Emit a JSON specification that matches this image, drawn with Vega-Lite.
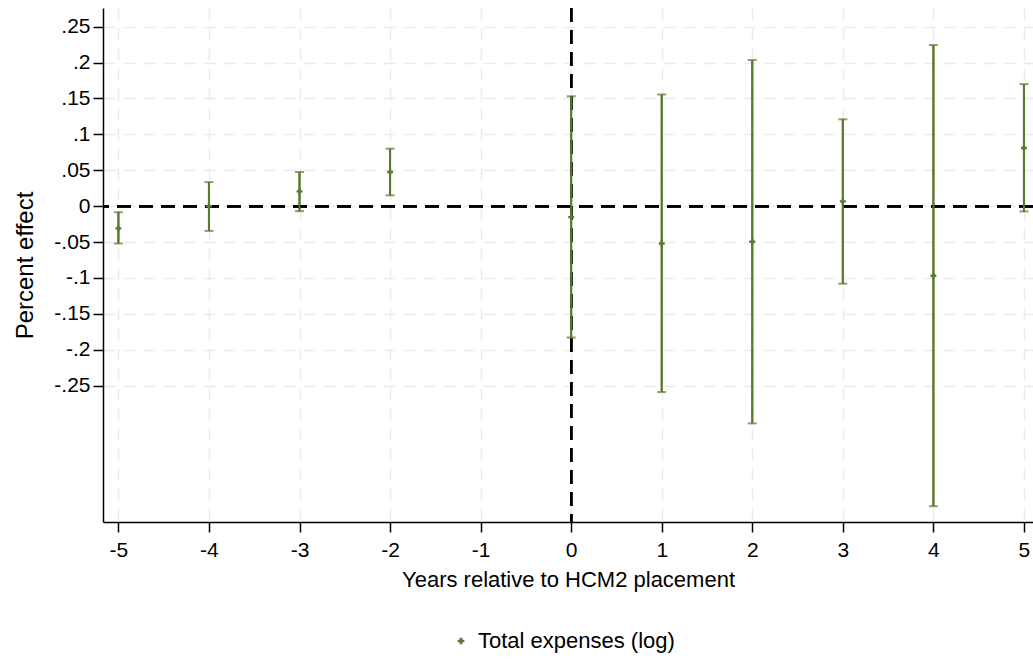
{
  "$schema": "https://vega.github.io/schema/vega-lite/v6.json",
  "autosize": {"type": "none"},
  "width": 930,
  "height": 514,
  "padding": {"left": 103, "top": 8, "right": 0, "bottom": 142},
  "background": "white",
  "config": {
    "view": {"stroke": null},
    "font": "Liberation Sans",
    "axis": {
      "labelFont": "Liberation Sans", "titleFont": "Liberation Sans",
      "labelColor": "#000", "titleColor": "#000", "titleFontWeight": "normal",
      "domainColor": "#000", "tickColor": "#000",
      "labelFontSize": 21, "titleFontSize": 22, "tickSize": 10,
      "domainWidth": 1.5, "tickWidth": 1.5,
      "grid": true, "gridColor": "#ebebeb", "gridDash": [12, 8], "gridWidth": 1.5
    },
    "axisX": {"labelPadding": 7, "titlePadding": 9, "labelFlush": false},
    "axisY": {"labelPadding": 3, "titlePadding": 16, "titleFontSize": 24}
  },
  "data": {"values": [
    {"t": -5, "b": -0.031, "lo": -0.052, "hi": -0.0084, "series": "Total expenses (log)"},
    {"t": -4, "b": 0.0, "lo": -0.0345, "hi": 0.0335, "series": "Total expenses (log)"},
    {"t": -3, "b": 0.0205, "lo": -0.007, "hi": 0.0475, "series": "Total expenses (log)"},
    {"t": -2, "b": 0.0475, "lo": 0.015, "hi": 0.080, "series": "Total expenses (log)"},
    {"t": 0, "b": -0.0154, "lo": -0.183, "hi": 0.153, "series": "Total expenses (log)"},
    {"t": 1, "b": -0.052, "lo": -0.259, "hi": 0.1555, "series": "Total expenses (log)"},
    {"t": 2, "b": -0.0496, "lo": -0.3026, "hi": 0.2035, "series": "Total expenses (log)"},
    {"t": 3, "b": 0.0066, "lo": -0.108, "hi": 0.121, "series": "Total expenses (log)"},
    {"t": 4, "b": -0.097, "lo": -0.418, "hi": 0.2244, "series": "Total expenses (log)"},
    {"t": 5, "b": 0.081, "lo": -0.0074, "hi": 0.170, "series": "Total expenses (log)"}
  ]},
  "layer": [
    {
      "mark": {"type": "rule", "color": "#5a7a32", "strokeWidth": 2},
      "encoding": {
        "x": {
          "field": "t", "type": "quantitative",
          "scale": {"domain": [-5.17, 5.1], "nice": false, "zero": false},
          "axis": {
            "values": [-5, -4, -3, -2, -1, 0, 1, 2, 3, 4, 5],
            "labelExpr": "replace(format(datum.value, 'd'), '\u2212', '-')",
            "title": "Years relative to HCM2 placement"
          }
        },
        "y": {
          "field": "lo", "type": "quantitative",
          "scale": {"domain": [-0.44, 0.276], "nice": false, "zero": false},
          "axis": {
            "values": [-0.25, -0.2, -0.15, -0.1, -0.05, 0, 0.05, 0.1, 0.15, 0.2, 0.25],
            "labelExpr": "replace(replace(format(datum.value, '.2~f'), '\u2212', '-'), '0.', '.')",
            "title": "Percent effect"
          }
        },
        "y2": {"field": "hi"}
      }
    },
    {
      "mark": {"type": "rule", "color": "#000", "strokeDash": [14, 8], "strokeWidth": 2},
      "encoding": {"y": {"datum": 0, "type": "quantitative"}}
    },
    {
      "mark": {"type": "rule", "color": "#000", "strokeDash": [14, 8], "strokeWidth": 2},
      "encoding": {"x": {"datum": 0, "type": "quantitative"}}
    },
    {
      "mark": {"type": "rule", "color": "#5a7a32", "strokeWidth": 2},
      "encoding": {
        "x": {"field": "t", "type": "quantitative"},
        "y": {"field": "lo", "type": "quantitative"},
        "y2": {"field": "hi"}
      }
    },
    {
      "mark": {"type": "tick", "color": "#5a7a32", "orient": "horizontal", "size": 9, "thickness": 2},
      "encoding": {"x": {"field": "t", "type": "quantitative"}, "y": {"field": "lo", "type": "quantitative"}}
    },
    {
      "mark": {"type": "tick", "color": "#5a7a32", "orient": "horizontal", "size": 9, "thickness": 2},
      "encoding": {"x": {"field": "t", "type": "quantitative"}, "y": {"field": "hi", "type": "quantitative"}}
    },
    {
      "mark": {"type": "point", "shape": "cross", "filled": true, "size": 35, "opacity": 1},
      "encoding": {
        "x": {"field": "t", "type": "quantitative"},
        "y": {"field": "b", "type": "quantitative"},
        "color": {
          "field": "series", "type": "nominal",
          "scale": {"range": ["#5a7a32"]},
          "legend": {
            "title": null, "orient": "none", "legendX": 347, "legendY": 622,
            "labelFontSize": 22, "labelFont": "Liberation Sans", "labelColor": "#000", "labelLimit": 400,
            "symbolSize": 45, "symbolType": "cross", "symbolOffset": 0, "labelOffset": 6
          }
        }
      }
    }
  ]
}
